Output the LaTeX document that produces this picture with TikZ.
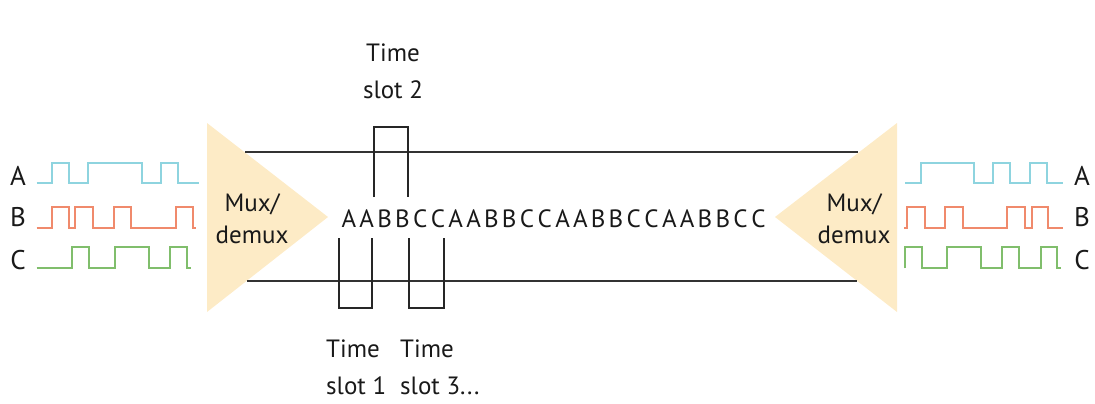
\documentclass[tikz,border=0pt]{standalone}
\usepackage{fontspec}
\setmainfont{PT Sans}
\definecolor{muxfill}{HTML}{FDEBC6}
\definecolor{sigA}{HTML}{8ED4DF}
\definecolor{sigB}{HTML}{F08A6C}
\definecolor{sigC}{HTML}{80BE6C}
\definecolor{linegray}{HTML}{333333}
\tikzset{
  lbl/.style={font=\fontsize{25}{32}\selectfont, text=black!90, inner sep=0pt},
  wave/.style={line width=2.3pt, line join=miter},
  chan/.style={line width=1.9pt, draw=linegray},
  slotbox/.style={line width=1.9pt, draw=black!85},
}
\begin{document}
\begin{tikzpicture}[x=1pt,y=-1pt]
\useasboundingbox (0,0) rectangle (1095,404);
% multiplexer triangles
\fill[muxfill] (207,123) -- (328,217) -- (207,312) -- cycle;
\fill[muxfill] (897,123) -- (775,217) -- (897,312) -- cycle;
\node[lbl, align=center] (muxL) at (252,219) {Mux/\\demux};
\node[lbl, align=center] (muxR) at (854,219) {Mux/\\demux};
% channel lines
\coordinate (tl) at (245,152); \coordinate (tr) at (858,152);
\coordinate (bl) at (247,281); \coordinate (br) at (857,281);
\draw[chan] (tl) -- (tr);
\draw[chan] (bl) -- (br);
% sequence
\foreach \c [count=\i from 0] in {A,A,B,B,C,C,A,A,B,B,C,C,A,A,B,B,C,C,A,A,B,B,C,C}
  \node[lbl, anchor=base] (s\i) at (349+\i*17.8,227) {\c};
% time slot boxes
\draw[slotbox] (374,197) -- (374,127) -- (408,127) -- (408,197);
\draw[slotbox] (339,238) -- (339,308) -- (372,308) -- (372,238);
\draw[slotbox] (409,238) -- (409,308) -- (444,308) -- (444,238);
% slot labels
\node[lbl, align=center, font=\fontsize{25}{37}\selectfont] (ts2) at (393,71) {Time\\slot 2};
\node[lbl, align=left, anchor=north west, font=\fontsize{25}{37}\selectfont] (ts1) at (326,340) {Time\\slot 1};
\node[lbl, align=left, anchor=north west, font=\fontsize{25}{37}\selectfont] (ts3) at (400,340) {Time\\slot 3...};
% channel letters
\node[lbl, font=\fontsize{27}{32}\selectfont] (LA) at (18,176) {A};
\node[lbl, font=\fontsize{27}{32}\selectfont] (LB) at (18,217) {B};
\node[lbl, font=\fontsize{27}{32}\selectfont] (LC) at (18,260) {C};
\node[lbl, font=\fontsize{27}{32}\selectfont] (RA) at (1082,176) {A};
\node[lbl, font=\fontsize{27}{32}\selectfont] (RB) at (1082,217) {B};
\node[lbl, font=\fontsize{27}{32}\selectfont] (RC) at (1082,260) {C};
% left waveforms
\draw[wave, sigA] (36.7,183.3) -| (52.3,162.7) -| (69,183.3) -| (88.3,162.7) -| (141.7,183.3) -| (161,162.7) -| (178.3,183.3) -- (199.3,183.3);
\draw[wave, sigB] (36.7,227.7) -| (52.3,207.3) -| (69,227.7) -| (74.7,207.3) -| (93.3,227.7) -| (113.7,207.3) -| (131,227.7) -| (176,207.3) -| (193.3,227.7) -- (195.7,227.7);
\draw[wave, sigC] (36.7,268.3) -| (72.3,247.3) -| (89.3,268.3) -| (115,247.3) -| (149.3,268.3) -| (170,247.3) -| (187.3,268.3) -- (190.7,268.3);
% right waveforms
\draw[wave, sigA] (905,183.3) -| (920.7,162.7) -| (974,183.3) -| (993.3,162.7) -| (1010,183.3) -| (1030,162.7) -| (1047.3,183.3) -- (1062.7,183.3);
\draw[wave, sigB] (904,227.7) -| (907.3,207.3) -| (925,227.7) -| (945,207.3) -| (962.7,227.7) -| (1007.3,207.3) -| (1025,227.7) -| (1031.7,207.3) -| (1047.7,227.7) -- (1063.3,227.7);
\draw[wave, sigC] (904.7,268.3) |- (921.7,247.3) |- (947.3,268.3) |- (980.7,247.3) |- (1001.7,268.3) |- (1019.3,247.3) |- (1040.7,268.3) |- (1057.3,247.3) -- (1057.3,268.3) -- (1060.7,268.3);
\end{tikzpicture}
\end{document}
